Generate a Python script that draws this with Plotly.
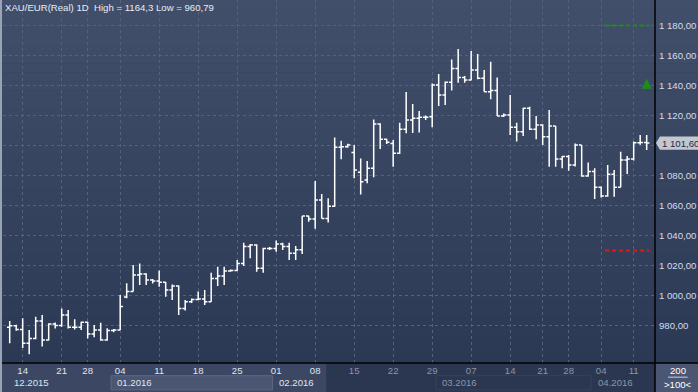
import plotly.graph_objects as go

# ---------------- data ----------------
opens = [978.8, 979.9, 977.4, 968.1, 971.4, 983.0, 970.3, 981.0, 980.0, 987.0,
         978.8, 978.8, 982.1, 974.3, 977.0, 970.3, 976.6, 977.0, 999.0, 1002.6,
         1013.7, 1014.3, 1010.3, 1009.7, 1008.8, 1003.7, 1006.3, 991.4, 995.9, 997.4,
         997.7, 995.9, 1011.4, 1013.0, 1016.3, 1016.6, 1021.4, 1032.6, 1033.7, 1018.1,
         1031.4, 1031.4, 1034.3, 1032.6, 1028.1, 1030.5, 1053.0, 1051.0, 1063.7, 1051.4,
         1059.5, 1098.8, 1099.2, 1095.4, 1082.1, 1077.0, 1084.8, 1114.3, 1104.1, 1101.4,
         1094.8, 1110.8, 1117.0, 1118.1, 1118.8, 1119.2, 1140.3, 1133.7, 1142.1, 1151.4,
         1145.4, 1143.7, 1150.3, 1144.8, 1135.9, 1136.6, 1119.7, 1120.3, 1112.1, 1109.2,
         1124.8, 1110.8, 1113.7, 1105.9, 1113.0, 1091.0, 1092.6, 1087.0, 1100.3, 1079.7,
         1082.6, 1072.1, 1066.3, 1080.8, 1072.1, 1090.3, 1091.0, 1101.9, 1102.0]
highs = [983.0, 980.5, 984.8, 977.0, 985.9, 987.0, 981.5, 982.0, 991.4, 990.3,
         984.1, 982.5, 982.5, 980.3, 981.9, 978.1, 977.6, 1000.3, 1008.1, 1020.3,
         1021.4, 1014.8, 1011.0, 1016.6, 1009.0, 1007.4, 1006.8, 997.0, 998.0, 1002.6,
         1003.7, 1015.2, 1019.2, 1019.2, 1017.4, 1023.7, 1035.2, 1034.3, 1034.1, 1031.9,
         1032.3, 1036.6, 1035.2, 1035.2, 1033.0, 1053.0, 1053.2, 1076.3, 1067.7, 1064.8,
         1105.4, 1103.2, 1101.2, 1100.3, 1091.4, 1089.7, 1117.4, 1114.8, 1104.5, 1103.7,
         1115.2, 1135.6, 1127.7, 1123.0, 1120.0, 1141.4, 1147.7, 1142.6, 1157.4, 1164.3,
         1146.3, 1163.0, 1161.0, 1150.3, 1155.9, 1145.4, 1121.4, 1133.7, 1115.2, 1125.2,
         1125.9, 1119.7, 1114.1, 1123.7, 1113.0, 1093.0, 1093.7, 1101.4, 1100.3, 1088.6,
         1084.8, 1072.6, 1087.0, 1083.7, 1095.9, 1093.0, 1102.6, 1107.0, 1107.0]
lows = [968.1, 976.5, 965.0, 960.79, 970.8, 966.0, 970.0, 978.0, 979.2, 978.0,
        977.4, 977.0, 971.4, 972.1, 969.9, 969.9, 975.5, 977.0, 998.1, 1002.6,
        1007.0, 1007.0, 1008.0, 1005.9, 999.2, 997.0, 987.0, 990.0, 995.0, 997.0,
        993.7, 995.9, 1006.3, 1007.0, 1015.9, 1016.3, 1019.7, 1024.8, 1015.9, 1015.2,
        1030.3, 1029.2, 1030.3, 1023.7, 1023.7, 1027.7, 1049.2, 1044.5, 1051.4, 1048.6,
        1059.2, 1090.8, 1098.5, 1078.1, 1067.4, 1074.8, 1078.8, 1097.7, 1101.0, 1085.9,
        1094.3, 1108.1, 1108.4, 1108.6, 1117.0, 1112.1, 1126.3, 1127.0, 1136.6, 1141.9,
        1141.9, 1143.5, 1144.1, 1135.9, 1130.8, 1119.7, 1119.0, 1107.0, 1102.6, 1106.3,
        1110.3, 1104.1, 1100.3, 1085.9, 1085.9, 1084.8, 1083.2, 1086.0, 1079.2, 1079.2,
        1064.3, 1065.4, 1065.9, 1065.9, 1072.1, 1081.0, 1090.0, 1100.5, 1097.0]
closes = [979.9, 977.4, 968.1, 971.4, 983.0, 970.3, 981.0, 980.0, 987.0, 978.8,
          978.8, 982.1, 974.3, 977.0, 970.3, 976.6, 977.0, 992.6, 1002.6, 1013.7,
          1014.3, 1010.3, 1009.7, 1008.8, 1003.7, 1006.3, 991.4, 995.9, 997.4, 997.7,
          995.9, 1011.4, 1013.0, 1016.3, 1016.6, 1021.4, 1032.6, 1033.7, 1018.1, 1031.4,
          1031.4, 1034.3, 1032.6, 1028.1, 1030.5, 1053.0, 1051.0, 1063.7, 1051.4, 1059.5,
          1098.8, 1099.2, 1100.3, 1083.7, 1075.9, 1084.8, 1114.3, 1104.1, 1102.1, 1094.8,
          1110.8, 1117.0, 1118.1, 1118.8, 1118.8, 1140.3, 1133.7, 1142.1, 1151.4, 1145.4,
          1143.7, 1150.3, 1144.8, 1135.9, 1136.6, 1119.7, 1120.3, 1112.1, 1109.2, 1124.8,
          1110.8, 1113.7, 1105.9, 1113.0, 1091.0, 1092.6, 1087.0, 1100.3, 1079.7, 1082.6,
          1072.1, 1066.3, 1080.8, 1072.1, 1090.3, 1091.0, 1101.9, 1102.0, 1101.6]

# week-start bars and their day labels
week_tick_bars = [2, 8, 12, 17, 23, 29, 35, 41, 47, 53, 59, 65, 71, 77, 82, 86, 91, 96]
week_tick_labels = ["14", "21", "28", "04", "11", "18", "25", "01", "08",
                    "15", "22", "29", "07", "14", "21", "28", "04", "11"]
# month bands
month_labels = ["12.2015", "01.2016", "02.2016", "03.2016", "04.2016"]
month_first_bar = [0, 16, 41, 66, 90]

price_ticks = [980, 1000, 1020, 1040, 1060, 1080, 1100, 1120, 1140, 1160, 1180]
price_tick_labels = ["980,00", "1 000,00", "1 020,00", "1 040,00", "1 060,00", "1 080,00",
                     "", "1 120,00", "1 140,00", "1 160,00", "1 180,00"]
last_price = 1101.60
last_price_label = "1 101,60"
take_profit = 1180
stop_loss = 1030
signal_arrow = [1137.0, 1144.5]
title_text = "XAU/EUR(Real) 1D  High = 1164,3 Low = 960,79"
bars_count_text = ["200", ">100<"]

bar_idx = list(range(len(opens)))
n = len(opens)

# ---------------- figure ----------------
FONT = "Liberation Sans"
fig = go.Figure()

fig.add_trace(go.Ohlc(
    x=bar_idx, open=opens, high=highs, low=lows, close=closes,
    increasing=dict(line=dict(color="#ffffff", width=1.5)),
    decreasing=dict(line=dict(color="#ffffff", width=1.5)),
    tickwidth=0.42, showlegend=False, hoverinfo="skip"))

# take-profit / stop-loss dashed levels
fig.add_trace(go.Scatter(x=[n - 7.4, n - 0.6], y=[take_profit, take_profit], mode="lines",
                         line=dict(color="#1c8c1c", width=2, dash="4px,3px"),
                         showlegend=False, hoverinfo="skip"))
fig.add_trace(go.Scatter(x=[n - 7.4, n - 0.6], y=[stop_loss, stop_loss], mode="lines",
                         line=dict(color="#e01818", width=2, dash="4px,3px"),
                         showlegend=False, hoverinfo="skip"))

shapes = []
# gradient background (plot + price scale)
top_rgb = (0x42, 0x4f, 0x6b)
bot_rgb = (0x2c, 0x39, 0x55)
N = 40
for k in range(N):
    t = k / (N - 1)
    c = tuple(round(top_rgb[j] + (bot_rgb[j] - top_rgb[j]) * t) for j in range(3))
    shapes.append(dict(type="rect", xref="paper", yref="paper",
                       x0=-0.01, x1=1.07, y0=1 - (k + 1) / N, y1=1 - k / N + 0.001,
                       fillcolor="rgb(%d,%d,%d)" % c, line=dict(width=0), layer="below"))
# time axis band
shapes.append(dict(type="rect", xref="paper", yref="paper", x0=-0.01, x1=1.0,
                   y0=-0.09, y1=0, fillcolor="#3c4863", line=dict(width=0), layer="below"))
shapes.append(dict(type="rect", xref="x", yref="paper", x0=48.7, x1=99.3,
                   y0=-0.09, y1=0, fillcolor="#2b3751", line=dict(width=0), layer="below"))
# highlighted month boxes
shapes.append(dict(type="rect", xref="x", yref="paper", x0=month_first_bar[1] - 0.4,
                   x1=month_first_bar[2] - 0.55, y0=-0.074, y1=-0.035,
                   fillcolor="#4a5672", line=dict(color="#5d6984", width=1), layer="below"))
shapes.append(dict(type="rect", xref="x", yref="paper", x0=month_first_bar[3] - 0.4,
                   x1=month_first_bar[4] - 0.55, y0=-0.074, y1=-0.035,
                   fillcolor="#2b3751", line=dict(color="#36425c", width=1), layer="below"))
# bottom-right box
shapes.append(dict(type="rect", xref="paper", yref="paper", x0=1.0, x1=1.07,
                   y0=-0.09, y1=0, fillcolor="#4a5672", line=dict(width=0), layer="below"))
shapes.append(dict(type="line", xref="paper", yref="paper", x0=1.02, x1=1.05,
                   y0=-0.039, y1=-0.039, line=dict(color="#c9d2e0", width=1)))
# borders / separator lines
shapes.append(dict(type="line", xref="paper", yref="paper", x0=1.0, x1=1.0,
                   y0=-0.09, y1=1.0, line=dict(color="#000000", width=1.5)))
shapes.append(dict(type="line", xref="paper", yref="paper", x0=-0.01, x1=1.07,
                   y0=0, y1=0, line=dict(color="#000000", width=1.5)))
shapes.append(dict(type="rect", xref="paper", yref="paper", x0=-0.0046, x1=-0.0015,
                   y0=-0.09, y1=1.0, fillcolor="#9aa3b4", line=dict(width=0)))
# last price tag (arrow-shaped)
h = 4.4
shapes.append(dict(type="path", xref="paper", yref="y",
                   path="M 1.0015,%f L 1.0075,%f L 1.07,%f L 1.07,%f L 1.0075,%f Z" % (
                       last_price, last_price + h, last_price + h,
                       last_price - h, last_price - h),
                   fillcolor="#c2c7d0", line=dict(width=0)))
fig.update_layout(shapes=shapes)

annotations = []
annotations.append(dict(text=title_text, xref="paper", yref="paper", x=0.0, y=0.979,
                        xanchor="left", yanchor="middle", showarrow=False,
                        font=dict(family=FONT, size=9.6, color="#e6ecf5")))
# month labels
for i, (lab, b) in enumerate(zip(month_labels, month_first_bar)):
    col = "#dfe6f2" if i < 3 else "#8a95a9"
    annotations.append(dict(text=lab, xref="x", yref="paper",
                            x=b + (0.4 if i == 0 else 0.2), y=-0.055,
                            xanchor="left", yanchor="middle", showarrow=False,
                            font=dict(family=FONT, size=9.6, color=col)))
# bar count box
annotations.append(dict(text=bars_count_text[0], xref="paper", yref="paper", x=1.035, y=-0.022,
                        xanchor="center", yanchor="middle", showarrow=False,
                        font=dict(family=FONT, size=9.6, color="#ffffff")))
annotations.append(dict(text=bars_count_text[1], xref="paper", yref="paper", x=1.035, y=-0.058,
                        xanchor="center", yanchor="middle", showarrow=False,
                        font=dict(family=FONT, size=9.6, color="#ffffff")))
# last price text
annotations.append(dict(text=last_price_label, xref="paper", yref="y", x=1.0075, y=last_price,
                        xanchor="left", yanchor="middle", showarrow=False,
                        font=dict(family=FONT, size=9.6, color="#1e2a44")))
# signal arrow
annotations.append(dict(text="", x=n - 1, y=signal_arrow[1], ax=n - 1, ay=signal_arrow[0],
                        xref="x", yref="y", axref="x", ayref="y", showarrow=True,
                        arrowhead=2, arrowsize=1.0, arrowwidth=2, arrowcolor="#1c8c1c"))
fig.update_layout(annotations=annotations)

ticktext = []
for i, t in enumerate(week_tick_labels):
    col = "#dfe6f2" if i < 9 else "#8a95a9"
    ticktext.append('<span style="color:%s">%s</span>' % (col, t))

fig.update_layout(
    width=698, height=392,
    margin=dict(l=3, r=43, t=0, b=29, pad=0),
    paper_bgcolor="#2c3955",
    plot_bgcolor="rgba(0,0,0,0)",
    font=dict(family=FONT, size=9.6, color="#dfe6f2"),
    xaxis=dict(range=[-1.03, 99.28], tickmode="array", tickvals=week_tick_bars,
               ticktext=ticktext, showgrid=True, gridcolor="#56627d", griddash="3px,3px",
               gridwidth=1, zeroline=False, showline=False, ticks="",
               rangeslider=dict(visible=False), tickfont=dict(size=9.6),
               fixedrange=True),
    yaxis=dict(range=[955, 1197], side="right", tickmode="array", tickvals=price_ticks,
               ticktext=price_tick_labels, showgrid=True, gridcolor="#56627d",
               griddash="3px,3px", gridwidth=1, zeroline=False, showline=False,
               ticks="", tickfont=dict(size=9.6, color="#d3ddee"), ticklabelstandoff=3,
               fixedrange=True),
)

fig.write_html("out.html", config={"displayModeBar": False, "staticPlot": True},
               post_script="document.body.style.margin='0';"
                           "document.body.style.background='#2c3955';")
